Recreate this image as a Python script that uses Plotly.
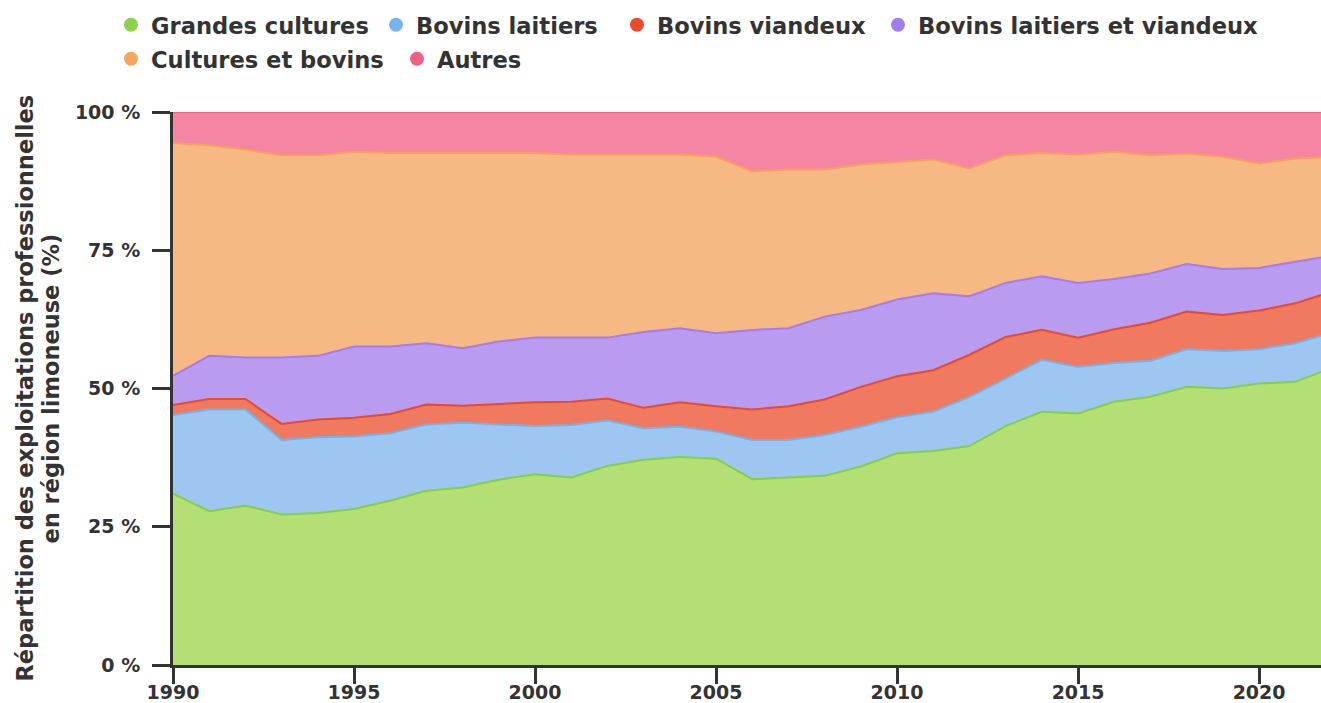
import plotly.graph_objects as go

years = list(range(1990, 2023))

grandes_cultures = [31.0, 27.8, 28.8, 27.2, 27.5, 28.2, 29.7, 31.5, 32.1, 33.5, 34.5,
                    33.9, 36.0, 37.1, 37.6, 37.3, 33.6, 33.9, 34.2, 35.9, 38.3,
                    38.7, 39.6, 43.2, 45.8, 45.5, 47.6, 48.5, 50.3, 50.0, 50.9, 51.2, 53.7]
bovins_laitiers = [14.2, 18.4, 17.4, 13.5, 13.7, 13.1, 12.2, 12.0, 11.7, 10.0, 8.7,
                   9.5, 8.2, 5.7, 5.5, 4.9, 7.1, 6.8, 7.4, 7.2, 6.5,
                   7.1, 8.9, 8.6, 9.4, 8.4, 7.0, 6.5, 6.8, 6.8, 6.2, 7.0, 6.4]
bovins_viandeux = [1.8, 1.9, 1.9, 2.9, 3.2, 3.4, 3.5, 3.6, 3.1, 3.7, 4.3,
                   4.2, 4.0, 3.7, 4.4, 4.6, 5.5, 6.1, 6.4, 7.2, 7.4,
                   7.5, 7.6, 7.5, 5.4, 5.3, 6.1, 6.9, 6.8, 6.5, 7.0, 7.2, 7.4]
bovins_mixtes = [5.3, 7.8, 7.5, 12.0, 11.5, 12.9, 12.2, 11.1, 10.4, 11.3, 11.7,
                 11.6, 11.0, 13.7, 13.4, 13.2, 14.4, 14.1, 15.0, 13.9, 13.9,
                 13.9, 10.6, 9.8, 9.7, 9.9, 9.1, 8.9, 8.6, 8.3, 7.7, 7.5, 6.5]
cultures_bovins = [42.1, 38.1, 37.6, 36.6, 36.3, 35.2, 35.0, 34.4, 35.3, 34.1, 33.4,
                   33.1, 33.1, 32.1, 31.4, 31.9, 28.7, 28.7, 26.6, 26.3, 24.8,
                   24.2, 23.1, 23.1, 22.3, 23.2, 23.0, 21.4, 20.0, 20.3, 18.9, 18.7, 17.9]
autres = [5.6, 6.0, 6.8, 7.8, 7.8, 7.2, 7.4, 7.4, 7.4, 7.4, 7.4,
          7.7, 7.7, 7.7, 7.7, 8.1, 10.7, 10.4, 10.4, 9.5, 9.1,
          8.6, 10.2, 7.8, 7.4, 7.7, 7.2, 7.8, 7.5, 8.1, 9.3, 8.4, 8.1]

series_names = ["Grandes cultures", "Bovins laitiers", "Bovins viandeux",
                "Bovins laitiers et viandeux", "Cultures et bovins", "Autres"]
series_values = [grandes_cultures, bovins_laitiers, bovins_viandeux,
                 bovins_mixtes, cultures_bovins, autres]
line_colors = ["#86d040", "#74b2ec", "#ea4a28", "#a57af2", "#f5a25a", "#f06088"]
fill_colors = ["#b4df74", "#9dc7f0", "#f07a60", "#b99cf0", "#f7b984", "#f485a3"]
legend_colors = ["#8ed14b", "#78b4ec", "#ea4c2a", "#a07ef0", "#f5a55c", "#f06086"]
# legend entry anchor positions (pixels in the figure): symbol centre x, row centre y
legend_pos = [(130, 25), (395, 25), (636, 25), (897, 25), (130, 59), (416, 59)]

W, H = 1321, 703

fig = go.Figure()
for name, vals, lc, fc in zip(series_names, series_values, line_colors, fill_colors):
    fig.add_trace(go.Scatter(
        x=years, y=vals, name=name, mode="lines", stackgroup="one",
        line=dict(color=lc, width=2), fillcolor=fc, showlegend=False,
        hovertemplate="%{y:.1f} %<extra>" + name + "</extra>"))

text_color = "#333333"
legend_font = dict(size=22.6, family="DejaVu Sans", color=text_color, weight="bold")
title_font = dict(size=22.5, family="DejaVu Sans", color=text_color, weight="bold")

legend_layouts = {}
for i, (name, mc, (px, py)) in enumerate(zip(series_names, legend_colors, legend_pos)):
    key = "legend" if i == 0 else f"legend{i + 1}"
    fig.add_trace(go.Scatter(
        x=[None], y=[None], name=name, mode="markers", legend=key,
        marker=dict(symbol="circle", size=16, color=mc, line=dict(color=mc, width=4)),
        showlegend=True))
    legend_layouts[key] = dict(
        orientation="h", xref="container", yref="container",
        x=(px - 19) / W, y=1 - py / H, xanchor="left", yanchor="middle",
        font=legend_font, itemsizing="constant", bgcolor="rgba(0,0,0,0)")

fig.update_layout(
    width=W, height=H,
    margin=dict(l=173, r=0, t=112, b=38, autoexpand=False),
    paper_bgcolor="white", plot_bgcolor="white",
    font=dict(family="DejaVu Sans", color=text_color, size=19, weight="bold"),
    xaxis=dict(range=[1990, 2021.71], tickmode="array",
               tickvals=[1990, 1995, 2000, 2005, 2010, 2015, 2020],
               ticks="outside", ticklen=16, tickwidth=3, tickcolor=text_color,
               showline=True, linewidth=3, linecolor=text_color,
               showgrid=False, zeroline=False, automargin=False,
               ticklabelstandoff=-8,
               tickfont=dict(size=19, weight="bold"), layer="above traces"),
    yaxis=dict(range=[0, 100], tickmode="array", tickvals=[0, 25, 50, 75, 100],
               ticktext=["0 %", "25 %", "50 %", "75 %", "100 %"],
               ticks="outside", ticklen=18, tickwidth=3, tickcolor=text_color,
               showline=True, linewidth=3, linecolor=text_color,
               showgrid=True, gridcolor="rgba(0,0,0,0.06)", gridwidth=1,
               zeroline=False, layer="above traces", automargin=False,
               ticklabelstandoff=8,
               tickfont=dict(size=19, weight="bold")),
    annotations=[
        dict(text="Répartition des exploitations professionnelles",
             xref="paper", yref="paper", x=0, y=0.5, xshift=-149,
             xanchor="center", yanchor="middle", textangle=-90,
             showarrow=False, font=title_font),
        dict(text="en région limoneuse (%)",
             xref="paper", yref="paper", x=0, y=0.5, xshift=-123,
             xanchor="center", yanchor="middle", textangle=-90,
             showarrow=False, font=title_font),
    ],
    **legend_layouts,
)

fig.write_html("out.html", config={"displayModeBar": False},
               post_script="document.body.style.margin='0';document.body.style.padding='0';")
